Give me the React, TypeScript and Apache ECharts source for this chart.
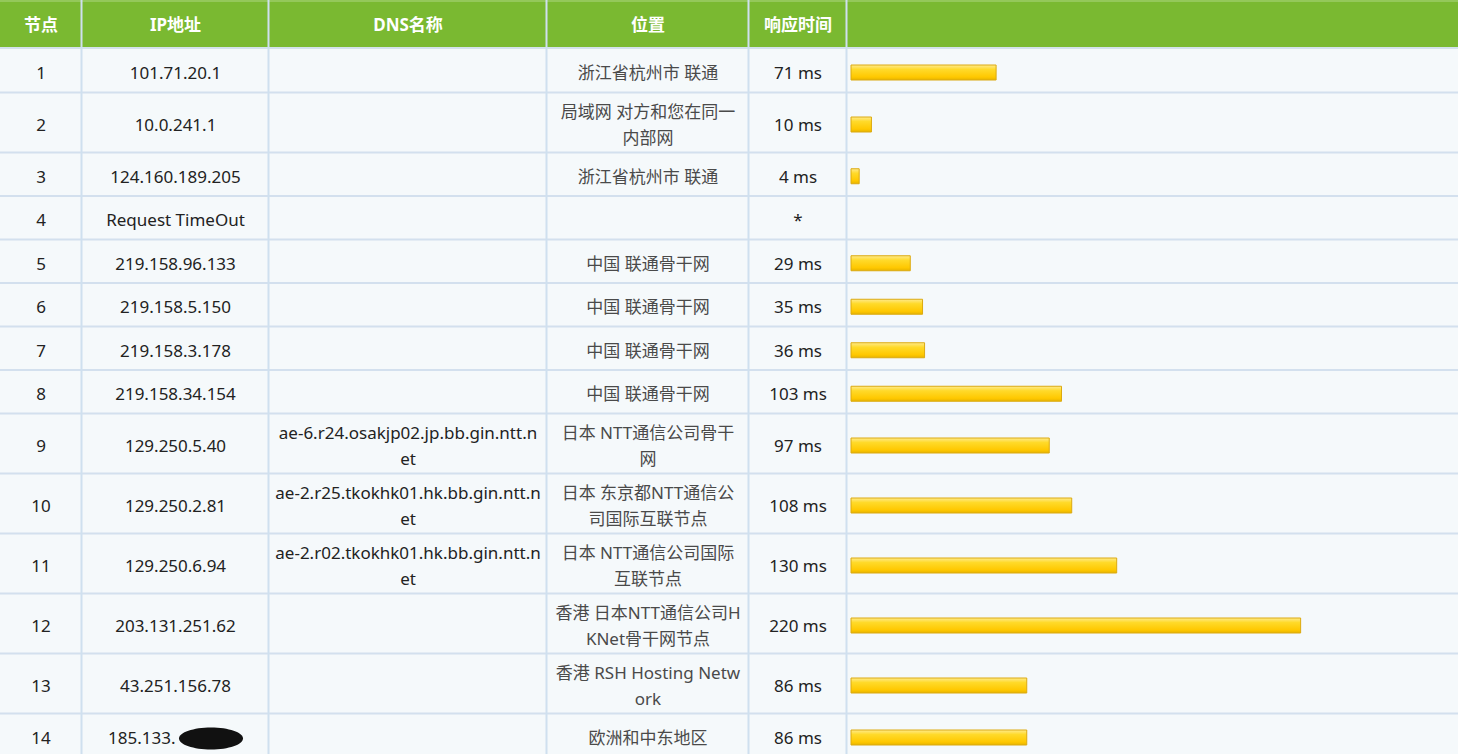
import React, { useEffect, useRef } from "react";
import * as echarts from "echarts";

// ---------- data ----------
const headers = ["节点", "IP地址", "DNS名称", "位置", "响应时间", ""];
const hops = ["1", "2", "3", "4", "5", "6", "7", "8", "9", "10", "11", "12", "13", "14"];
const ips = [
  "101.71.20.1",
  "10.0.241.1",
  "124.160.189.205",
  "Request TimeOut",
  "219.158.96.133",
  "219.158.5.150",
  "219.158.3.178",
  "219.158.34.154",
  "129.250.5.40",
  "129.250.2.81",
  "129.250.6.94",
  "203.131.251.62",
  "43.251.156.78",
  "185.133.",
];
const dnsNames = [
  "", "", "", "", "", "", "", "",
  "ae-6.r24.osakjp02.jp.bb.gin.ntt.n\net",
  "ae-2.r25.tkokhk01.hk.bb.gin.ntt.n\net",
  "ae-2.r02.tkokhk01.hk.bb.gin.ntt.n\net",
  "", "", "",
];
const locations = [
  "浙江省杭州市 联通",
  "局域网 对方和您在同一\n内部网",
  "浙江省杭州市 联通",
  "",
  "中国 联通骨干网",
  "中国 联通骨干网",
  "中国 联通骨干网",
  "中国 联通骨干网",
  "日本 NTT通信公司骨干\n网",
  "日本 东京都NTT通信公\n司国际互联节点",
  "日本 NTT通信公司国际\n互联节点",
  "香港 日本NTT通信公司H\nKNet骨干网节点",
  "香港 RSH Hosting Netw\nork",
  "欧洲和中东地区",
];
const times: (number | null)[] = [71, 10, 4, null, 29, 35, 36, 103, 97, 108, 130, 220, 86, 86];

// ---------- layout ----------
const W = 1458;
const H = 754;
const HEADER_H = 48;
const colEdges = [0, 82, 269, 547, 749, 847, W];
const rowHeights = [44, 60, 43.5, 43.5, 43.5, 43.5, 43.5, 43.5, 60, 60, 60, 60, 60, 44];
const FONT = "'Noto Sans', 'Noto Sans CJK SC', sans-serif";

const rowTops: number[] = [];
{
  let y = HEADER_H + 1;
  for (const h of rowHeights) {
    rowTops.push(y);
    y += h;
  }
}
const rowCenters = rowTops.map((t, i) => t + rowHeights[i] / 2 + 1.5);

function buildGraphics() {
  const els: any[] = [];
  els.push({ type: "rect", shape: { x: 0, y: 0, width: W, height: H }, style: { fill: "#f5f9fb" }, z: 0 });
  els.push({ type: "rect", shape: { x: 0, y: 0, width: W, height: HEADER_H }, style: { fill: "#7ab931" }, z: 1 });
  els.push({ type: "rect", shape: { x: 0, y: 0, width: W, height: 2 }, style: { fill: "#94c85a" }, z: 1 });
  els.push({ type: "rect", shape: { x: 0, y: HEADER_H - 1, width: W, height: 2 }, style: { fill: "#d3e2ec" }, z: 2 });
  rowTops.forEach((t, i) => {
    if (i === 0) return;
    els.push({ type: "rect", shape: { x: 0, y: t - 1.5, width: W, height: 2 }, style: { fill: "#d3e0ee" }, z: 2 });
  });
  colEdges.slice(1, -1).forEach((x) => {
    els.push({ type: "rect", shape: { x: x - 1.5, y: 0, width: 2, height: H }, style: { fill: "#cfe0ef" }, z: 3 });
  });
  headers.forEach((h, c) => {
    if (!h) return;
    els.push({
      type: "text",
      x: (colEdges[c] + colEdges[c + 1]) / 2,
      y: HEADER_H / 2,
      style: {
        text: h,
        fill: "#ffffff",
        font: `bold 17px ${FONT}`,
        align: "center",
        verticalAlign: "middle",
      },
      z: 4,
    });
  });
  const cols = [hops, ips, dnsNames, locations, times.map((t) => (t == null ? "*" : `${t} ms`))];
  cols.forEach((col, c) => {
    col.forEach((txt, r) => {
      if (!txt) return;
      const isMasked = c === 1 && r === ips.length - 1;
      els.push({
        type: "text",
        x: isMasked ? 108 : (colEdges[c] + colEdges[c + 1]) / 2,
        y: rowCenters[r],
        style: {
          text: txt,
          fill: c === 3 ? "#4a4a4a" : "#222222",
          font: `17px ${FONT}`,
          lineHeight: 26,
          align: isMasked ? "left" : "center",
          verticalAlign: "middle",
        },
        z: 4,
      });
    });
  });
  els.push({
    type: "ellipse",
    shape: { cx: 211, cy: rowCenters[13] + 1, rx: 32, ry: 11 },
    style: { fill: "#111111" },
    z: 5,
  });
  return els;
}

export default function App() {
  const ref = useRef<HTMLDivElement>(null);
  useEffect(() => {
    if (!ref.current) return;
    const chart = echarts.init(ref.current, undefined, { renderer: "svg" });
    const barFill = new echarts.graphic.LinearGradient(0, 0, 0, 1, [
      { offset: 0, color: "#ffea8c" },
      { offset: 0.3, color: "#ffda2a" },
      { offset: 0.8, color: "#ffc800" },
      { offset: 1, color: "#e6b400" },
    ]);
    const barData = times.map((t, i) => [t == null ? "-" : t, i]);
    chart.setOption({
      animation: false,
      grid: { left: colEdges[5] + 4, width: 607, top: 0, height: H },
      xAxis: { type: "value", min: 0, max: 297, show: false },
      yAxis: { type: "value", min: 0, max: H, inverse: true, show: false },
      graphic: { elements: buildGraphics() },
      series: [
        {
          type: "custom",
          z: 10,
          data: barData,
          renderItem: (params: any, api: any) => {
            const v = api.value(0);
            if (v == null || isNaN(v)) return null;
            const row = api.value(1);
            const yc = rowCenters[row];
            const p0 = api.coord([0, yc]);
            const p1 = api.coord([v, yc]);
            return {
              type: "rect",
              shape: { x: p0[0], y: p0[1] - 7.5, width: p1[0] - p0[0], height: 15 },
              style: { fill: barFill, stroke: "#dcaa10", lineWidth: 1 },
            };
          },
        },
      ],
    });
    return () => chart.dispose();
  }, []);
  return <div ref={ref} style={{ position: "absolute", left: 0, top: 0, width: W, height: H }} />;
}
